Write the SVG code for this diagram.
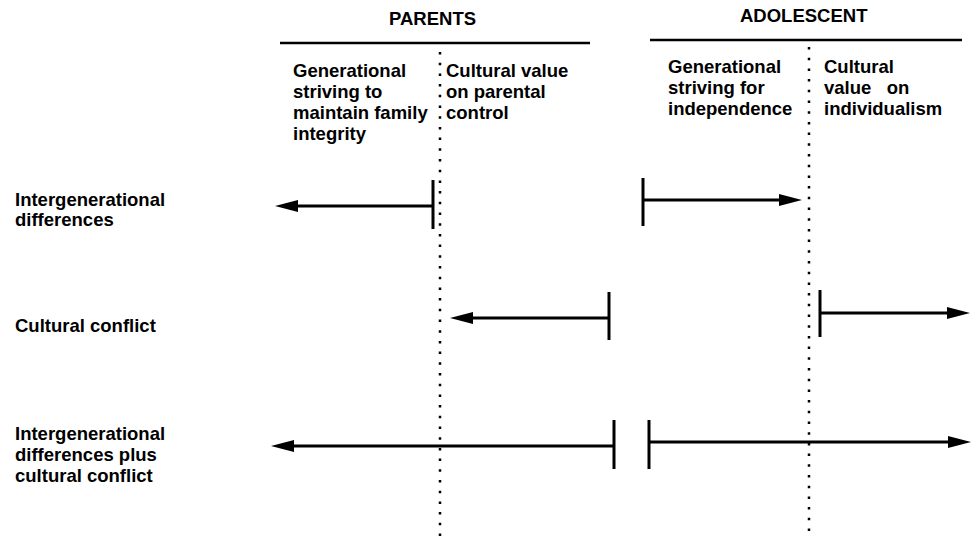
<svg xmlns="http://www.w3.org/2000/svg" width="972" height="544" viewBox="0 0 972 544">
<style>
text{font-family:"Liberation Sans",Arial,sans-serif;font-weight:bold;fill:#000;font-size:18.5px}
.hdr{font-size:18.5px}
.rule{stroke:#000;stroke-width:2.5;fill:none}
.dot{stroke:#000;stroke-width:2.5;stroke-dasharray:2.5 8.2;fill:none}
.arr{stroke:#000;stroke-width:3;fill:none}
.tick{stroke:#000;stroke-width:3;fill:none}
.head{fill:#000}
</style>
<rect width="972" height="544" fill="#fff"/>
<g id="header-parents">
<text class="hdr" x="389" y="25">PARENTS</text>
<line class="rule" x1="280" y1="43" x2="590" y2="43"/>
</g>
<g id="header-adolescent">
<text class="hdr" x="740" y="22">ADOLESCENT</text>
<line class="rule" x1="650" y1="40" x2="962" y2="40"/>
</g>
<g id="parents-generational">
<text x="293" y="77">Generational</text>
<text x="293" y="98">striving to</text>
<text x="293" y="119">maintain family</text>
<text x="293" y="140">integrity</text>
</g>
<g id="parents-cultural">
<text x="446" y="77">Cultural value</text>
<text x="446" y="98">on parental</text>
<text x="446" y="119">control</text>
</g>
<g id="adolescent-generational">
<text x="668" y="73">Generational</text>
<text x="668" y="94">striving for</text>
<text x="668" y="115">independence</text>
</g>
<g id="adolescent-cultural">
<text x="824" y="73">Cultural</text>
<text x="824" y="94" xml:space="preserve">value   on</text>
<text x="824" y="115">individualism</text>
</g>
<g id="label-intergenerational">
<text x="15" y="206">Intergenerational</text>
<text x="15" y="226">differences</text>
</g>
<g id="label-cultural">
<text x="15" y="332">Cultural conflict</text>
</g>
<g id="label-both">
<text x="15" y="440">Intergenerational</text>
<text x="15" y="461">differences plus</text>
<text x="15" y="482">cultural conflict</text>
</g>
<g id="dividers">
<line class="dot" x1="440" y1="52" x2="440" y2="536"/>
<line class="dot" x1="809" y1="47" x2="809" y2="536"/>
</g>
<g id="connectors">
<line class="tick" x1="433" y1="180" x2="433" y2="229"/>
<line class="arr" x1="433" y1="206" x2="292" y2="206"/>
<polygon class="head" points="275,206 298,200 298,212"/>
<line class="tick" x1="643" y1="178" x2="643" y2="226"/>
<line class="arr" x1="643" y1="200" x2="785" y2="200"/>
<polygon class="head" points="802,200 779,194 779,206"/>
<line class="tick" x1="609" y1="292" x2="609" y2="340"/>
<line class="arr" x1="609" y1="318" x2="467" y2="318"/>
<polygon class="head" points="450,318 473,312 473,324"/>
<line class="tick" x1="820" y1="290" x2="820" y2="337"/>
<line class="arr" x1="820" y1="313" x2="953" y2="313"/>
<polygon class="head" points="970,313 947,307 947,319"/>
<line class="tick" x1="614" y1="420" x2="614" y2="469"/>
<line class="arr" x1="614" y1="446" x2="288" y2="446"/>
<polygon class="head" points="271,446 294,440 294,452"/>
<line class="tick" x1="649" y1="420" x2="649" y2="469"/>
<line class="arr" x1="649" y1="442" x2="954" y2="442"/>
<polygon class="head" points="971,442 948,436 948,448"/>
</g>
</svg>
